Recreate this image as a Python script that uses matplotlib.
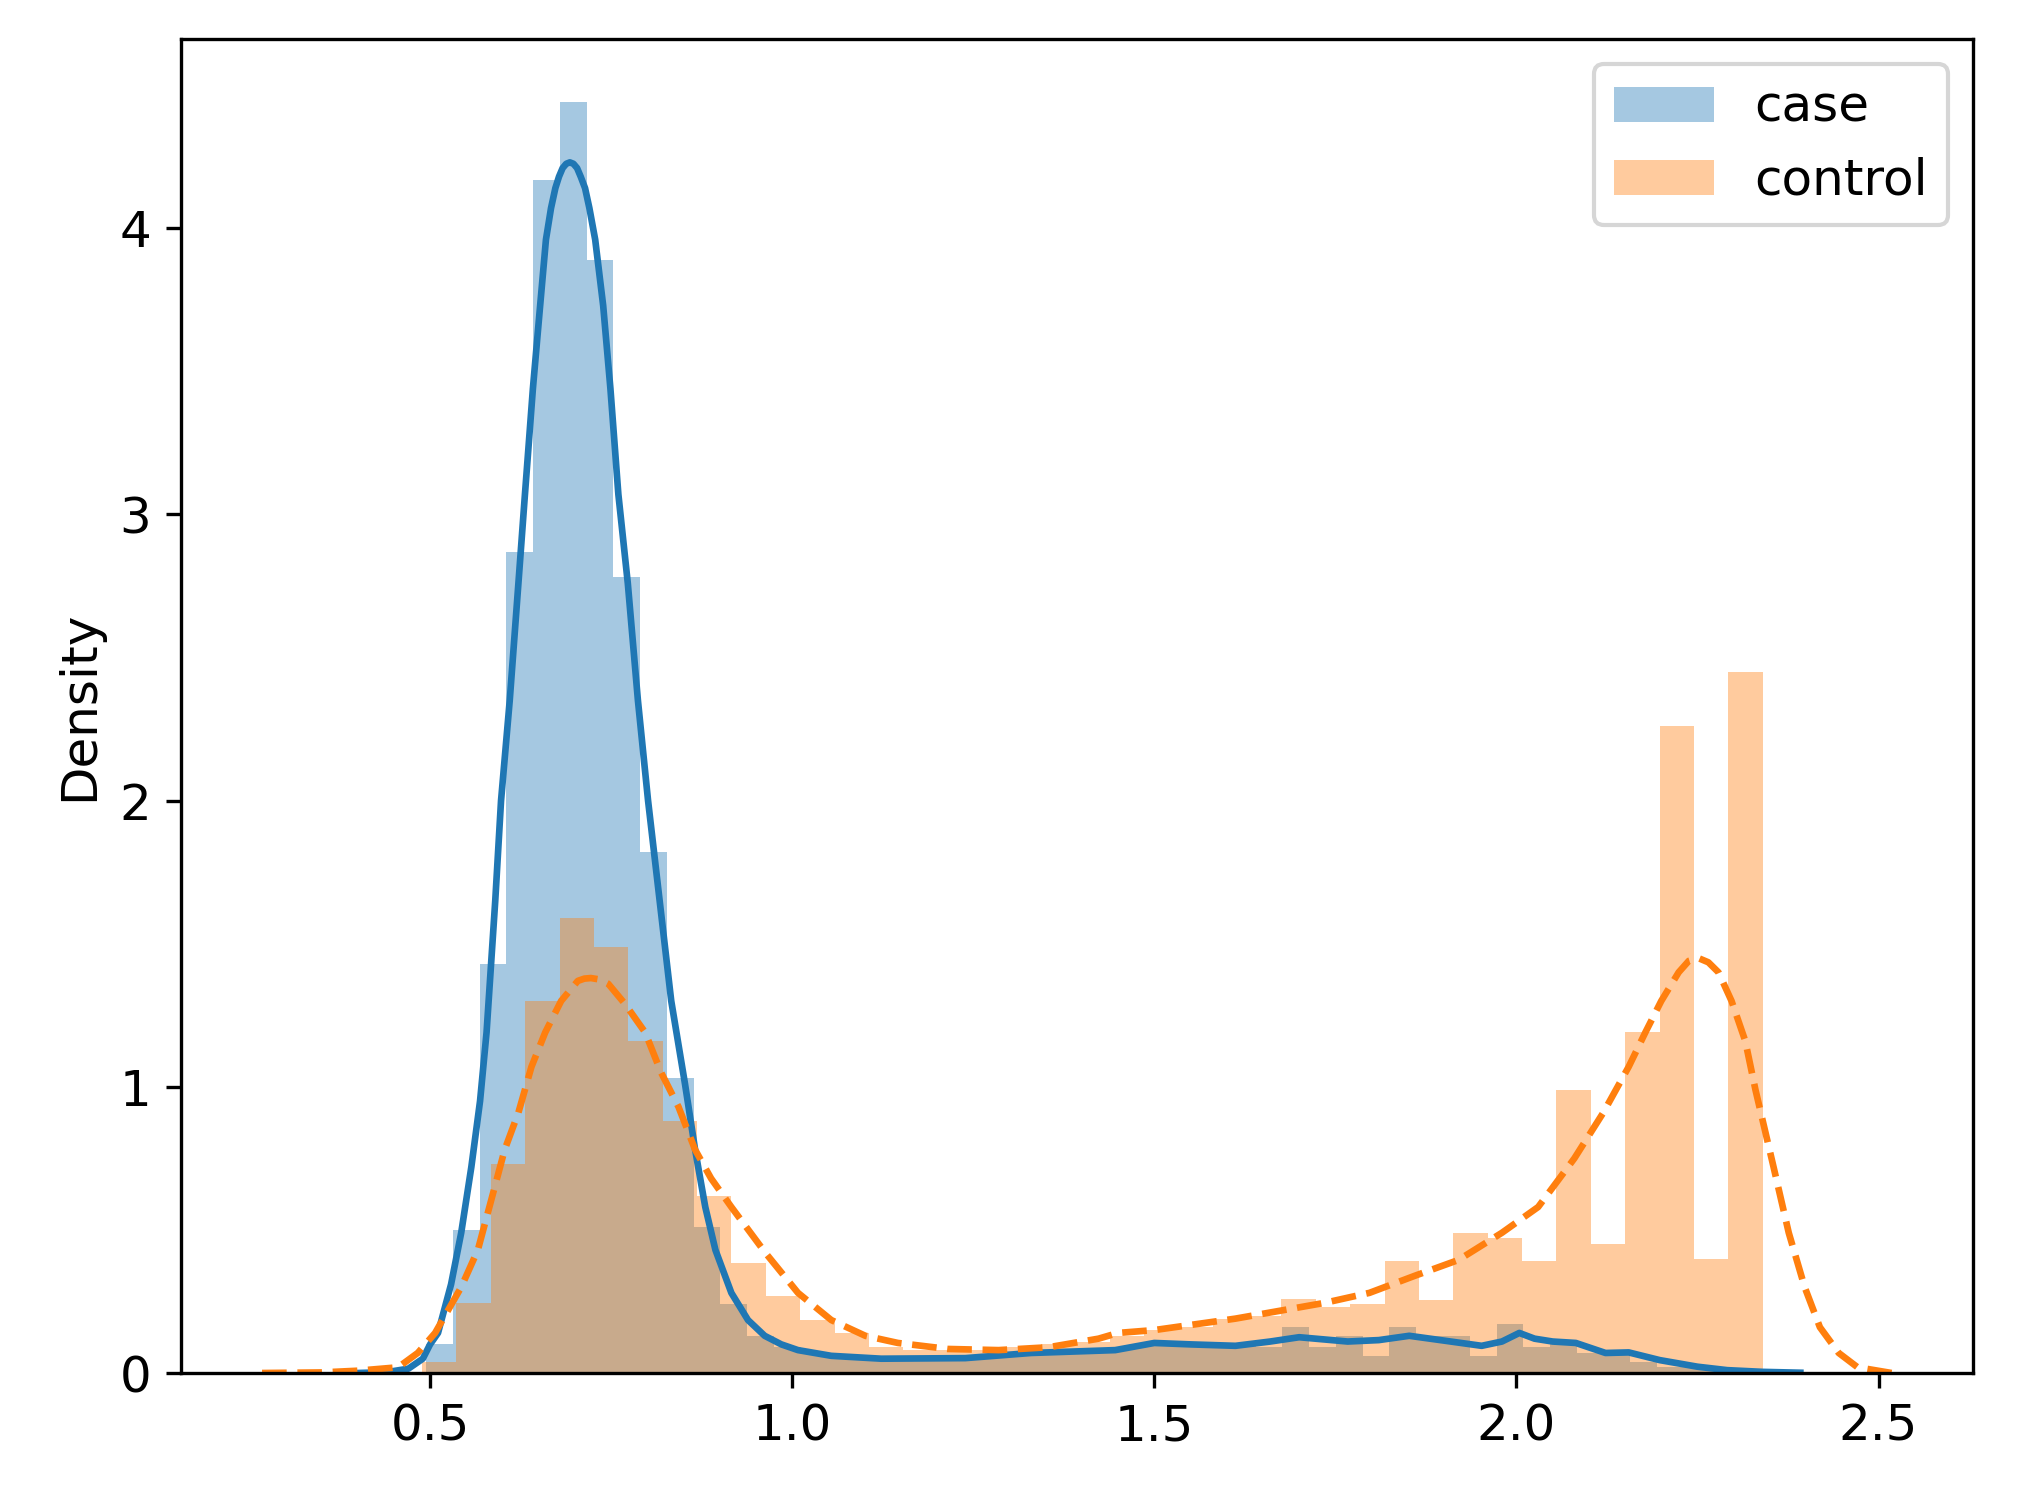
import numpy as np
import matplotlib
matplotlib.use("Agg")
import matplotlib.pyplot as plt

# histogram bins (range and count)
case_lo, case_hi, case_nbins = 0.4945, 2.342, 50
control_lo, control_hi, control_nbins = 0.489, 2.340, 39

case_heights = [
    0.10, 0.50, 1.43, 2.87, 4.17, 4.44, 3.89, 2.78, 1.82, 1.03,
    0.51, 0.24, 0.13, 0.09, 0.07, 0.06, 0.05, 0.05, 0.05, 0.05,
    0.05, 0.06, 0.065, 0.07, 0.075, 0.08, 0.09, 0.10, 0.10, 0.10,
    0.10, 0.09, 0.16, 0.09, 0.13, 0.06, 0.16, 0.13, 0.13, 0.06,
    0.17, 0.09, 0.11, 0.07, 0.07, 0.04, 0.02, 0.02, 0.01, 0.005,
]
control_heights = [
    0.04, 0.245, 0.73, 1.30, 1.59, 1.49, 1.16, 0.88, 0.62, 0.385,
    0.27, 0.185, 0.14, 0.09, 0.08, 0.08, 0.08, 0.09, 0.10, 0.11,
    0.13, 0.15, 0.16, 0.19, 0.20, 0.26, 0.23, 0.24, 0.39, 0.255,
    0.49, 0.47, 0.39, 0.99, 0.45, 1.19, 2.26, 0.40, 2.45,
]

# density curves
case_kde_x = [0.40, 0.44, 0.47, 0.49, 0.50, 0.511, 0.529, 0.543, 0.557, 0.569,
              0.578, 0.584, 0.590, 0.598, 0.610, 0.622, 0.631, 0.642, 0.652, 0.660,
              0.667, 0.673, 0.678, 0.683, 0.688, 0.693, 0.698, 0.703, 0.708, 0.714,
              0.720, 0.728, 0.739, 0.749, 0.760, 0.773,
              0.787, 0.801, 0.817, 0.833, 0.852, 0.866, 0.880, 0.894, 0.916, 0.939,
              0.962, 0.985, 1.008, 1.054, 1.123, 1.239, 1.33, 1.446, 1.50, 1.55, 1.612,
              1.66, 1.70, 1.767, 1.81, 1.852, 1.895, 1.952, 1.98, 2.004, 2.025,
              2.05, 2.082, 2.123, 2.155, 2.198, 2.25, 2.291, 2.34, 2.392]
case_kde_y = [0.0, 0.003, 0.015, 0.05, 0.10, 0.14, 0.31, 0.49, 0.72, 0.95,
              1.19, 1.42, 1.65, 2.00, 2.35, 2.76, 3.07, 3.44, 3.73, 3.96,
              4.07, 4.14, 4.18, 4.21, 4.225, 4.23, 4.225, 4.21, 4.18, 4.14,
              4.07, 3.96, 3.73, 3.44, 3.07, 2.76,
              2.35, 2.00, 1.65, 1.30, 1.01, 0.78, 0.58, 0.43, 0.28, 0.185,
              0.13, 0.10, 0.08, 0.06, 0.05, 0.052, 0.07, 0.08, 0.105, 0.10, 0.095,
              0.11, 0.125, 0.11, 0.115, 0.13, 0.115, 0.095, 0.11, 0.14, 0.12,
              0.11, 0.105, 0.07, 0.072, 0.045, 0.022, 0.01, 0.004, 0.001]

control_kde_x = [0.268, 0.35, 0.40, 0.456, 0.483, 0.507, 0.543, 0.566, 0.584, 0.603,
                 0.622, 0.640, 0.659, 0.681, 0.704, 0.713, 0.722, 0.734, 0.746, 0.769,
                 0.797, 0.819, 0.843, 0.866, 0.888, 0.916, 0.963, 1.008, 1.054, 1.101,
                 1.146, 1.215, 1.285, 1.354, 1.423, 1.45, 1.50, 1.612, 1.735, 1.797,
                 1.86, 1.92, 1.98, 2.03, 2.08, 2.12, 2.155, 2.178, 2.20, 2.224,
                 2.238, 2.251, 2.265, 2.279, 2.297, 2.316, 2.33, 2.355, 2.376, 2.398,
                 2.419, 2.445, 2.471, 2.518]
control_kde_y = [0.0, 0.002, 0.008, 0.02, 0.07, 0.14, 0.30, 0.43, 0.60, 0.78,
                 0.91, 1.07, 1.19, 1.30, 1.37, 1.378, 1.38, 1.375, 1.36, 1.29,
                 1.19, 1.05, 0.93, 0.78, 0.68, 0.58, 0.42, 0.28, 0.185, 0.13,
                 0.105, 0.084, 0.08, 0.09, 0.12, 0.14, 0.15, 0.19, 0.245, 0.28,
                 0.34, 0.395, 0.49, 0.58, 0.75, 0.91, 1.07, 1.19, 1.30, 1.40,
                 1.44, 1.45, 1.435, 1.40, 1.30, 1.16, 0.99, 0.72, 0.49, 0.30,
                 0.16, 0.07, 0.02, 0.0]

case_edges = np.linspace(case_lo, case_hi, case_nbins + 1)
control_edges = np.linspace(control_lo, control_hi, control_nbins + 1)

fig = plt.figure(figsize=(2022 / 300, 1495 / 300), dpi=300)
ax = fig.add_axes([0.0893, 0.0816, 0.8865, 0.8925])

ax.bar(case_edges[:-1], case_heights, width=np.diff(case_edges), align="edge",
       color="C0", alpha=0.4, linewidth=0, label="case")
ax.plot(case_kde_x, case_kde_y, color="C0", linewidth=1.6)

ax.bar(control_edges[:-1], control_heights, width=np.diff(control_edges), align="edge",
       color="C1", alpha=0.4, linewidth=0, label="control")
ax.plot(control_kde_x, control_kde_y, color="C1", linewidth=1.6, linestyle="--")

ax.set_xticks([0.5, 1.0, 1.5, 2.0, 2.5])
ax.set_yticks([0, 1, 2, 3, 4])
ax.tick_params(labelsize=12)
ax.set_ylabel("Density", fontsize=12)
ax.legend(loc="upper right", fontsize=12)

fig.savefig("out.png", dpi=300)
